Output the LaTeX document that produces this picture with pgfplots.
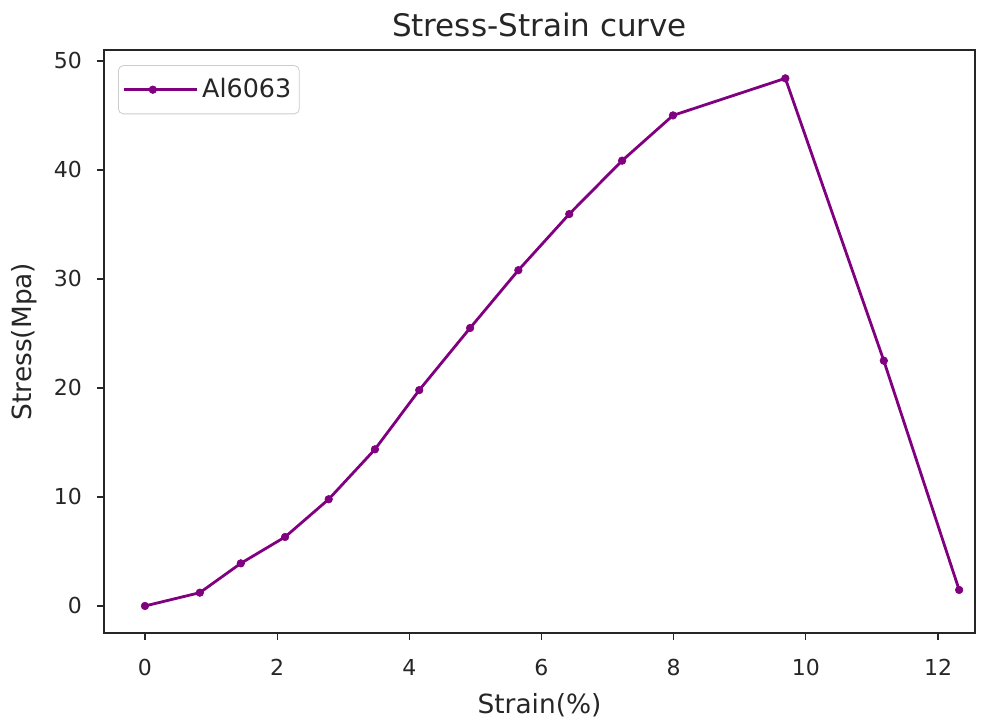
\documentclass[border=0pt]{standalone}
\usepackage{pgfplots}
\pgfplotsset{compat=1.18}
\usepackage{fontspec}
\setmainfont{DejaVu Sans}
\usetikzlibrary{calc}
\definecolor{mplpurple}{HTML}{800080}
\definecolor{legedge}{HTML}{CCCCCC}
\begin{document}
\begin{tikzpicture}
\begin{axis}[
  name=ax,
  at={(0,0)}, anchor=south west,
  scale only axis,
  width=435.5pt, height=291.5pt,
  xmin=-0.62, xmax=12.56,
  ymin=-2.48, ymax=51.0,
  xtick={0,2,4,6,8,10,12},
  ytick={0,10,20,30,40,50},
  tick align=outside,
  tick pos=left,
  major tick length=3.5pt,
  every tick/.style={black!85, line width=0.6pt},
  axis line style={line width=0.7pt, black!85},
  /pgf/number format/assume math mode=true,
  ticklabel style={font=\fontsize{11}{13}\selectfont, text=black!85},
  xticklabel style={yshift=-6pt},
  yticklabel style={xshift=-4pt},
  title={Stress-Strain curve},
  title style={font=\fontsize{15.5}{18}\selectfont, text=black!85, yshift=-3pt},
  xlabel={Strain(\%)},
  ylabel={Stress(Mpa)},
  label style={font=\fontsize{13.2}{15}\selectfont, text=black!85},
  xlabel style={yshift=-2pt},
  ylabel style={yshift=1.5pt},
  legend style={font=\fontsize{12.7}{15}\selectfont, text=black!85, draw=legedge, rounded corners=2.5pt,
    at={(0.0161,0.974)}, anchor=north west, inner xsep=2pt, inner ysep=4.5pt},
  legend cell align=left,
  legend image code/.code={\draw[mark repeat=2,mark phase=2,#1] plot coordinates {(0pt,0pt)(14.5pt,0pt)(29pt,0pt)}; \path (0pt,0pt) -- (36.5pt,0pt);},
]
\addplot[color=mplpurple, line width=1.4pt, mark=*, mark size=1.9pt, mark options={fill=mplpurple, line width=0.3pt}] coordinates {
  (0,0)
  (0.83,1.22)
  (1.45,3.91)
  (2.12,6.33)
  (2.78,9.79)
  (3.48,14.37)
  (4.15,19.8)
  (4.92,25.5)
  (5.65,30.8)
  (6.42,35.95)
  (7.22,40.85)
  (7.99,45.0)
  (9.69,48.4)
  (11.18,22.5)
  (12.32,1.47)
};
\addlegendentry{Al6063\hspace{2.5pt}}
\end{axis}
\path ($(ax.south west)+(-52pt,-43pt)$) rectangle ($(ax.north east)+(7pt,25pt)$);
\end{tikzpicture}
\end{document}
